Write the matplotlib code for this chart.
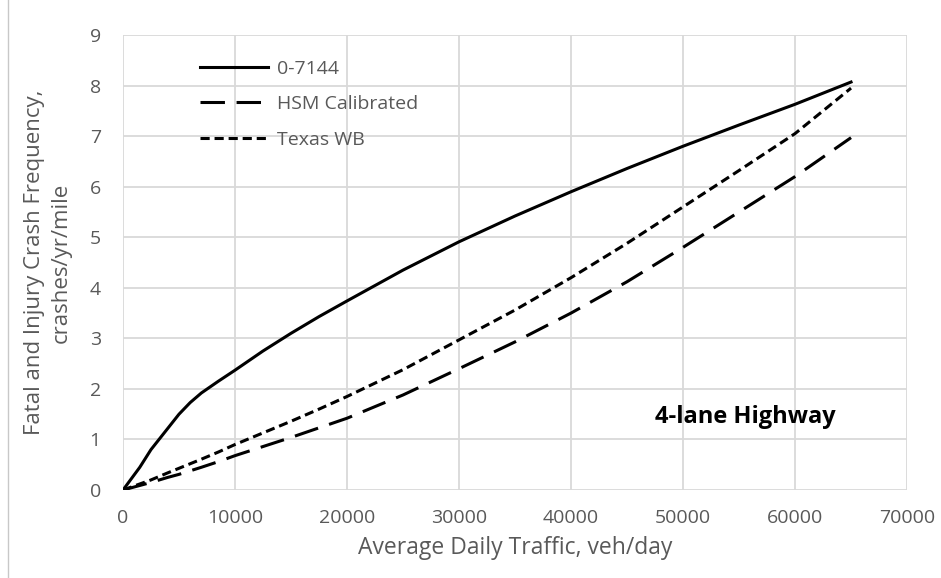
import numpy as np
import matplotlib.pyplot as plt
from matplotlib.lines import Line2D

# 交通量 (veh/day)
adt = [0, 1500, 2500, 4000, 5000, 6000, 7000, 8500, 10000, 12500, 15000, 17500,
       20000, 25000, 30000, 35000, 40000, 45000, 50000, 55000, 60000, 65000]
# 0-7144
crash_7144 = [0, 0.45, 0.8, 1.22, 1.5, 1.73, 1.92, 2.15, 2.37, 2.75, 3.1, 3.43,
              3.74, 4.35, 4.91, 5.42, 5.9, 6.36, 6.8, 7.22, 7.63, 8.07]
# HSM Calibrated
crash_hsm = [0, 0.09, 0.15, 0.25, 0.31, 0.38, 0.45, 0.56, 0.68, 0.86, 1.04, 1.23,
             1.42, 1.88, 2.4, 2.93, 3.5, 4.12, 4.8, 5.5, 6.2, 6.97]
# Texas WB
crash_txwb = [0, 0.12, 0.2, 0.34, 0.43, 0.52, 0.61, 0.75, 0.9, 1.13, 1.36, 1.6,
              1.85, 2.38, 2.97, 3.56, 4.2, 4.88, 5.6, 6.32, 7.05, 7.95]

plt.rcParams['font.family'] = ['Open Sans', 'DejaVu Sans']

fig = plt.figure(figsize=(9.41, 5.78), dpi=100)
ax = fig.add_axes([0.1307, 0.1522, 0.8332, 0.7872])

ax.plot(adt, crash_7144, c="black", lw=2.2, label="0-7144")
ax.plot(adt, crash_hsm, c="black", lw=2.2, dashes=(8, 3.8), label="HSM Calibrated")
ax.plot(adt, crash_txwb, c="black", lw=2.2, dashes=(3, 1.6), label="Texas WB")

ax.set_xlim(0, 70000)
ax.set_ylim(0, 9)
ax.set_xticks(np.arange(0, 70001, 10000))
ax.set_yticks(np.arange(0, 10, 1))
ax.grid(True, color="#d9d9d9", lw=1.3)
ax.set_axisbelow(True)
for s in ax.spines.values():
    s.set_visible(False)
ax.tick_params(length=0, labelsize=14, labelcolor="#595959")
ax.tick_params(axis="x", pad=14)
ax.tick_params(axis="y", pad=16)

ax.set_xlabel("Average Daily Traffic, veh/day", fontsize=16.5, color="#595959", labelpad=6)
ax.set_ylabel("Fatal and Injury Crash Frequency,\ncrashes/yr/mile", fontsize=16,
              color="#595959", labelpad=13, linespacing=1.35)

ax.text(55600, 1.45, "4-lane Highway", fontsize=17, fontweight="bold",
        ha="center", va="center")

leg = ax.legend(loc="upper left", bbox_to_anchor=(0.088, 0.963), frameon=False,
                fontsize=14, handlelength=3.5, handletextpad=0.45, labelspacing=0.9,
                borderaxespad=0)
for t in leg.get_texts():
    t.set_color("#595959")

fig.add_artist(Line2D([0.0085, 0.0085], [0, 1], color="#c8c8c8", lw=1))

fig.savefig("out.png", dpi=100)
